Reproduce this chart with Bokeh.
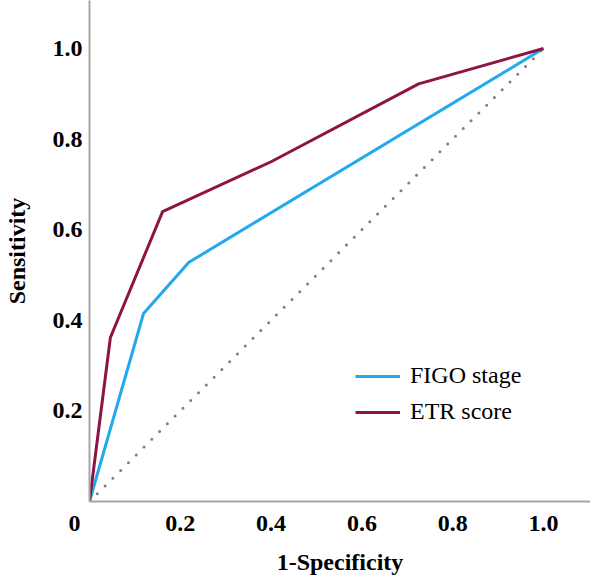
from bokeh.plotting import figure
from bokeh.models import Range1d, FixedTicker, Legend, LegendItem
from bokeh.embed import file_html
from bokeh.resources import INLINE

# ---- data ----
fpr_figo = [0.0, 0.119, 0.219, 1.0]
tpr_figo = [0.0, 0.415, 0.528, 1.0]

fpr_etr = [0.0, 0.046, 0.161, 0.40, 0.725, 1.0]
tpr_etr = [0.0, 0.362, 0.640, 0.75, 0.922, 1.0]

ref_x = [0.0, 1.0]
ref_y = [0.0, 1.0]

x_ticks = [0.0, 0.2, 0.4, 0.6, 0.8, 1.0]
x_tick_labels = ["0\u00a0\u00a0\u00a0\u00a0\u00a0", "0.2", "0.4", "0.6", "0.8", "1.0"]
y_ticks = [0.2, 0.4, 0.6, 0.8, 1.0]
y_tick_labels = ["0.2", "0.4", "0.6", "0.8", "1.0"]

series_names = ["FIGO stage", "ETR score"]
x_title = "1-Specificity"
y_title = "Sensitivity"

FONT = "Liberation Serif"
BLUE = "#22A8EF"
MAROON = "#8E1447"
AXIS = "#A6A6A6"

p = figure(width=590, height=578, output_backend="svg", toolbar_location=None,
           x_range=Range1d(0, 501 / 454), y_range=Range1d(0, 501 / 453),
           min_border_left=89, min_border_bottom=77, min_border_top=0, min_border_right=0)
p.outline_line_color = None
p.xgrid.visible = False
p.ygrid.visible = False
p.background_fill_color = "white"
p.border_fill_color = "white"

p.line(ref_x, ref_y, line_color="#7F7F7F", line_width=3, line_dash="0 11", line_cap="round")
r_figo = p.line(fpr_figo, tpr_figo, line_color=BLUE, line_width=3)
r_etr = p.line(fpr_etr, tpr_etr, line_color=MAROON, line_width=3)

for ax in (p.xaxis[0], p.yaxis[0]):
    ax.axis_line_color = AXIS
    ax.axis_line_width = 2
    ax.major_tick_line_color = None
    ax.minor_tick_line_color = None
    ax.major_tick_out = 0
    ax.major_tick_in = 0
    ax.major_label_text_font = FONT
    ax.major_label_text_font_style = "bold"
    ax.major_label_text_font_size = "24px"
    ax.major_label_text_color = "black"
    ax.axis_label_text_font = FONT
    ax.axis_label_text_font_style = "bold"
    ax.axis_label_text_font_size = "24px"
    ax.axis_label_text_color = "black"

p.xaxis[0].ticker = FixedTicker(ticks=x_ticks)
p.xaxis[0].major_label_overrides = {t: l for t, l in zip(x_ticks, x_tick_labels)}
p.yaxis[0].ticker = FixedTicker(ticks=y_ticks)
p.yaxis[0].major_label_overrides = {t: l for t, l in zip(y_ticks, y_tick_labels)}
p.xaxis[0].axis_label = x_title
p.yaxis[0].axis_label = y_title
p.xaxis[0].major_label_standoff = 8
p.xaxis[0].axis_label_standoff = 10
p.yaxis[0].major_label_standoff = 7
p.yaxis[0].axis_label_standoff = 20

legend = Legend(items=[LegendItem(label=series_names[0], renderers=[r_figo]),
                       LegendItem(label=series_names[1], renderers=[r_etr])],
                location=(266, 76), orientation="vertical",
                glyph_width=45, glyph_height=26, label_height=26, spacing=9,
                label_standoff=10, padding=0, margin=0,
                border_line_color=None, background_fill_alpha=0,
                label_text_font=FONT, label_text_font_size="24px", label_text_color="black")
p.add_layout(legend)

open("out.html", "w").write(file_html(p, INLINE))
